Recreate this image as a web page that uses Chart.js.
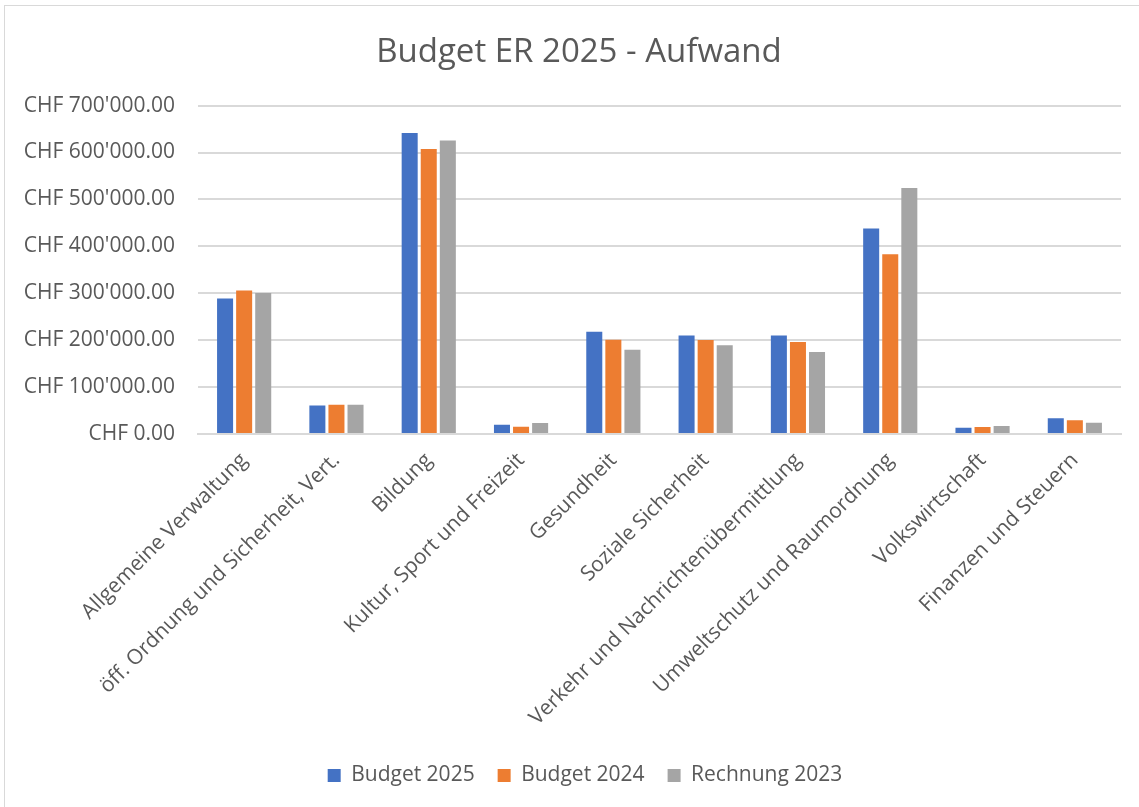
<!DOCTYPE html>
<html>
<head>
<meta charset="utf-8">
<script src="https://cdn.jsdelivr.net/npm/chart.js"></script>
<style>
body { margin: 0; overflow: hidden; background: #fff; }
#wrap { position: absolute; left: 4px; top: 5px; width: 1146px; height: 812px; border: 1px solid #d9d9d9; }
</style>
</head>
<body>
<div id="wrap"><canvas id="chart" width="1146" height="812"></canvas></div>
<script>
var categories = ["Allgemeine Verwaltung", "öff. Ordnung und Sicherheit, Vert.", "Bildung",
    "Kultur, Sport und Freizeit", "Gesundheit", "Soziale Sicherheit",
    "Verkehr und Nachrichtenübermittlung", "Umweltschutz und Raumordnung",
    "Volkswirtschaft", "Finanzen und Steuern"];
var budget2025 = [289000, 60500, 641800, 19900, 218200, 209700, 209700, 437800, 13500, 33400];
var budget2024 = [306000, 62500, 607700, 15600, 201100, 200400, 196200, 383000, 14900, 29100];
var rechnung2023 = [300600, 62500, 625400, 23500, 179800, 189000, 174800, 524500, 17000, 24200];
var yTicks = [0, 100000, 200000, 300000, 400000, 500000, 600000, 700000];

function chf(v) {
    var s = Math.round(v).toString().replace(/\B(?=(\d{3})+(?!\d))/g, "'");
    return "CHF " + s + ".00";
}

var grey = '#595959';

// title and legend sit centred on the whole frame, not on the padded box
var shiftBlocks = {
    id: 'shiftBlocks',
    afterLayout: function (chart) {
        chart.titleBlock.left += 16;
        chart.titleBlock.right += 16;
        chart.legend.left += 22;
        chart.legend.right += 22;
    }
};

ctx = document.getElementById('chart');
var myChart = new Chart(ctx, {
    type: 'bar',
    data: {
        labels: categories,
        datasets: [
            { label: "Budget 2025", data: budget2025, backgroundColor: '#4472C4' },
            { label: "Budget 2024", data: budget2024, backgroundColor: '#ED7D31' },
            { label: "Rechnung 2023", data: rechnung2023, backgroundColor: '#A5A5A5' }
        ]
    },
    plugins: [shiftBlocks],
    options: {
        responsive: false,
        animation: false,
        devicePixelRatio: 1,
        categoryPercentage: 0.62,
        barPercentage: 0.84,
        layout: { padding: { left: 0, right: 30, top: 0, bottom: 22 } },
        plugins: {
            title: {
                display: true,
                text: "Budget ER 2025 - Aufwand",
                color: grey,
                font: { family: "Open Sans", size: 33, weight: 'normal' },
                padding: { top: 27, bottom: 33 }
            },
            legend: {
                position: 'bottom',
                labels: {
                    color: grey,
                    font: { family: "Open Sans", size: 21 },
                    boxWidth: 13,
                    boxHeight: 13,
                    padding: 23
                }
            },
            tooltip: { enabled: false }
        },
        scales: {
            x: {
                grid: { display: false },
                border: { color: '#d9d9d9', width: 2 },
                ticks: {
                    color: grey,
                    font: { family: "Open Sans", size: 21 },
                    minRotation: 45,
                    maxRotation: 45,
                    autoSkip: false,
                    padding: 6
                },
                afterFit: function (scale) { scale.height = 308; }
            },
            y: {
                min: 0,
                max: 700000,
                afterBuildTicks: function (scale) {
                    scale.ticks = yTicks.map(function (v) { return { value: v }; });
                },
                grid: { color: '#d9d9d9', lineWidth: 2, drawTicks: false },
                border: { display: false },
                ticks: {
                    color: grey,
                    font: { family: "Open Sans", size: 21 },
                    padding: 23,
                    callback: function (v) { return chf(v); }
                },
                afterFit: function (scale) { scale.width = 193; }
            }
        }
    }
});
</script>
</body>
</html>
